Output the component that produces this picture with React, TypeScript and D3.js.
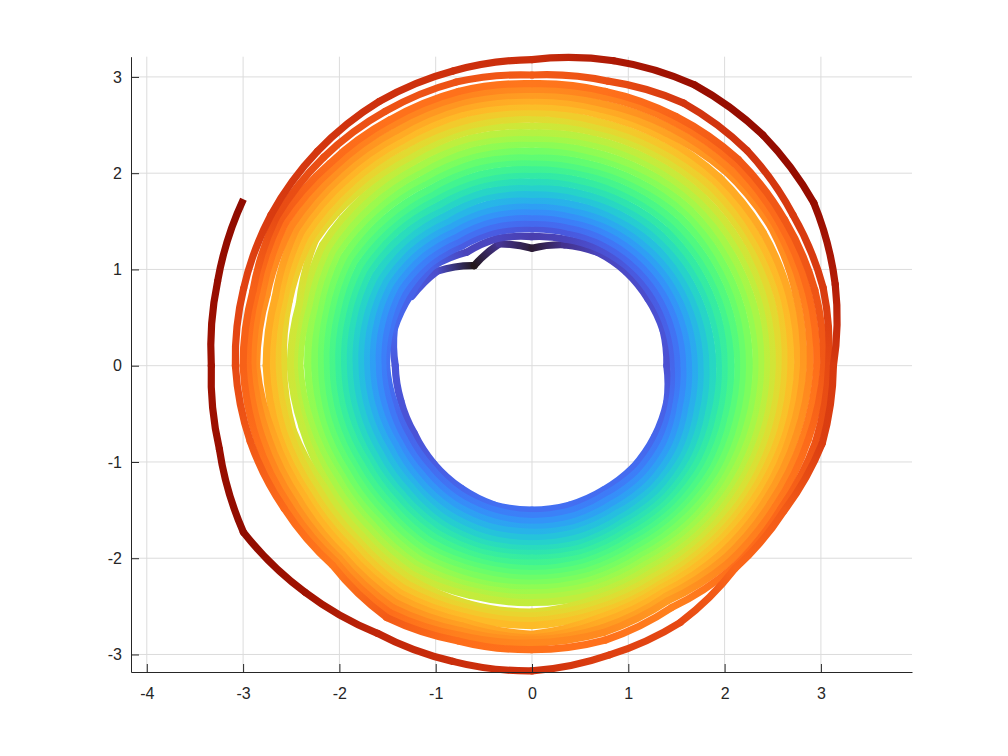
import { useEffect, useRef } from 'react';
import * as d3 from 'd3';

// polar angle of every sample, one turn clockwise, in degrees
const angles = [150, 135, 120, 105, 90, 75, 60, 45, 30, 15, 0, -15, -30, -45, -60, -75, -90, -105, -120, -135, -150, -165, -180, -195];

// radius for each turn of the spiral, inner to outer
const loop01 = [1.44,1.39,1.20,1.31,1.22,1.30,1.36,1.38,1.39,1.41,1.40,1.45,1.47,1.49,1.49,1.50,1.50,1.50,1.47,1.44,1.41,1.41,1.42,1.48];
const loop02 = [1.46,1.46,1.36,1.37,1.34,1.36,1.40,1.43,1.44,1.46,1.47,1.50,1.53,1.55,1.54,1.56,1.56,1.55,1.53,1.49,1.47,1.48,1.51,1.52];
const loop03 = [1.52,1.50,1.44,1.44,1.42,1.43,1.46,1.48,1.50,1.51,1.52,1.55,1.59,1.61,1.60,1.62,1.62,1.61,1.59,1.55,1.53,1.53,1.55,1.56];
const loop04 = [1.58,1.55,1.50,1.50,1.48,1.49,1.52,1.54,1.56,1.57,1.58,1.60,1.65,1.67,1.66,1.68,1.68,1.67,1.65,1.61,1.59,1.59,1.60,1.62];
const loop05 = [1.64,1.61,1.56,1.56,1.54,1.55,1.58,1.60,1.62,1.63,1.64,1.66,1.71,1.73,1.72,1.74,1.73,1.73,1.71,1.67,1.64,1.65,1.66,1.68];
const loop06 = [1.70,1.67,1.62,1.62,1.60,1.61,1.64,1.66,1.68,1.69,1.70,1.72,1.77,1.79,1.77,1.79,1.79,1.79,1.77,1.73,1.70,1.71,1.72,1.74];
const loop07 = [1.76,1.73,1.68,1.68,1.66,1.67,1.70,1.72,1.74,1.75,1.76,1.78,1.83,1.84,1.83,1.85,1.85,1.85,1.83,1.78,1.76,1.77,1.78,1.80];
const loop08 = [1.82,1.79,1.74,1.74,1.72,1.73,1.76,1.78,1.80,1.81,1.82,1.84,1.88,1.90,1.88,1.91,1.90,1.91,1.89,1.84,1.82,1.83,1.84,1.86];
const loop09 = [1.88,1.85,1.80,1.81,1.78,1.80,1.82,1.85,1.86,1.87,1.88,1.90,1.94,1.95,1.93,1.96,1.95,1.96,1.94,1.90,1.88,1.89,1.90,1.92];
const loop10 = [1.95,1.91,1.87,1.87,1.85,1.86,1.89,1.91,1.93,1.94,1.95,1.96,1.99,2.00,1.98,2.01,2.00,2.01,2.00,1.95,1.94,1.95,1.96,1.98];
const loop11 = [2.01,1.98,1.93,1.94,1.91,1.93,1.95,1.98,1.99,2.00,2.01,2.02,2.05,2.05,2.03,2.06,2.05,2.06,2.05,2.01,1.99,2.01,2.02,2.04];
const loop12 = [2.07,2.04,2.00,2.00,1.98,1.99,2.02,2.05,2.06,2.07,2.07,2.08,2.10,2.10,2.08,2.11,2.11,2.11,2.11,2.06,2.05,2.07,2.08,2.10];
const loop13 = [2.14,2.10,2.06,2.06,2.04,2.06,2.08,2.11,2.12,2.13,2.14,2.14,2.16,2.15,2.13,2.16,2.16,2.16,2.17,2.12,2.11,2.13,2.14,2.16];
const loop14 = [2.20,2.16,2.12,2.13,2.11,2.12,2.15,2.18,2.19,2.20,2.20,2.20,2.21,2.20,2.18,2.21,2.21,2.21,2.22,2.17,2.16,2.19,2.20,2.22];
const loop15 = [2.26,2.23,2.19,2.19,2.17,2.18,2.21,2.25,2.25,2.26,2.26,2.26,2.27,2.25,2.23,2.26,2.26,2.26,2.28,2.23,2.22,2.25,2.26,2.28];
const loop16 = [2.33,2.29,2.25,2.26,2.23,2.25,2.28,2.31,2.32,2.33,2.33,2.32,2.32,2.31,2.28,2.31,2.31,2.32,2.33,2.28,2.28,2.31,2.33,2.34];
const loop17 = [2.39,2.35,2.32,2.32,2.30,2.31,2.34,2.38,2.38,2.39,2.39,2.38,2.37,2.36,2.33,2.36,2.36,2.37,2.39,2.34,2.33,2.37,2.41,2.40];
const loop18 = [2.45,2.42,2.38,2.39,2.36,2.38,2.41,2.44,2.45,2.46,2.45,2.44,2.43,2.41,2.38,2.41,2.41,2.42,2.44,2.39,2.39,2.43,2.47,2.46];
const loop19 = [2.51,2.48,2.45,2.45,2.42,2.44,2.47,2.50,2.51,2.52,2.51,2.50,2.48,2.46,2.43,2.46,2.46,2.47,2.50,2.45,2.45,2.47,2.51,2.50];
const loop20 = [2.60,2.55,2.51,2.52,2.49,2.51,2.54,2.57,2.58,2.58,2.57,2.55,2.53,2.51,2.48,2.51,2.56,2.56,2.55,2.50,2.50,2.57,2.58,2.61];
const loop21 = [2.65,2.61,2.57,2.58,2.56,2.57,2.60,2.63,2.64,2.65,2.63,2.61,2.59,2.56,2.53,2.56,2.60,2.60,2.61,2.56,2.56,2.61,2.64,2.66];
const loop22 = [2.71,2.67,2.64,2.64,2.63,2.63,2.66,2.70,2.70,2.71,2.69,2.67,2.64,2.61,2.58,2.61,2.65,2.65,2.67,2.61,2.62,2.67,2.70,2.71];
const loop23 = [2.77,2.73,2.70,2.71,2.69,2.70,2.73,2.76,2.77,2.77,2.76,2.73,2.69,2.66,2.63,2.66,2.70,2.70,2.73,2.67,2.68,2.73,2.76,2.76];
const loop24 = [2.83,2.79,2.76,2.77,2.75,2.76,2.79,2.85,2.87,2.84,2.82,2.78,2.75,2.71,2.67,2.71,2.79,2.75,2.78,2.72,2.73,2.78,2.86,2.85];
const loop25 = [2.89,2.85,2.82,2.83,2.81,2.82,2.86,2.90,2.92,2.91,2.89,2.84,2.80,2.77,2.72,2.76,2.83,2.80,2.84,2.78,2.79,2.84,2.90,2.90];
const loop26 = [2.96,2.91,2.89,2.89,2.87,2.89,2.93,2.97,2.97,2.97,2.96,2.91,2.86,2.83,2.77,2.82,2.85,2.85,2.90,2.83,2.85,2.90,2.95,2.96];
const loop27 = [3.02,2.97,2.95,2.95,2.93,2.95,2.99,3.03,3.03,3.04,3.03,2.97,2.92,2.89,2.82,2.87,2.88,2.90,2.96,2.88,2.91,2.96,3.00,3.00];
const loop28 = [3.07,3.06,3.05,3.05,3.02,3.06,3.15,3.16,3.13,3.13,3.08,3.05,2.98,2.96,2.90,2.95,2.95,2.96,3.02,2.93,2.97,3.03,3.08,3.10];
const loop29 = [3.13,3.15,3.17,3.17,3.18,3.28,3.37,3.39,3.38,3.26,3.13,3.12,3.02,2.98,3.08,3.11,3.17,3.18,3.21,3.33,3.46,3.36,3.33,3.38];
const lastRadius = 3.46;
const lastAngle = 150;

const loops = [loop01, loop02, loop03, loop04, loop05, loop06, loop07, loop08, loop09, loop10,
  loop11, loop12, loop13, loop14, loop15, loop16, loop17, loop18, loop19, loop20,
  loop21, loop22, loop23, loop24, loop25, loop26, loop27, loop28, loop29];

const xTicks = [-4, -3, -2, -1, 0, 1, 2, 3];
const yTicks = [-3, -2, -1, 0, 1, 2, 3];
const xDomain = [-4.164, 3.946];
const yDomain = [-3.182, 3.21];
const radiusDomain = [1.2, 3.46];

type Sample = { r: number; a: number };

export default function App() {
  const svgRef = useRef<SVGSVGElement>(null);

  useEffect(() => {
    if (!svgRef.current) return;
    const svg = d3.select(svgRef.current);
    svg.selectAll('*').remove();

    const left = 131, right = 912, top = 56.7, bottom = 672;
    const x = d3.scaleLinear().domain(xDomain).range([left, right]);
    const y = d3.scaleLinear().domain(yDomain).range([bottom, top]);
    const color = d3.scaleSequential(d3.interpolateTurbo).domain(radiusDomain);

    // Grid lines
    svg.append('g').selectAll('line').data(xTicks).enter().append('line')
      .attr('x1', (d) => x(d)).attr('x2', (d) => x(d))
      .attr('y1', top).attr('y2', bottom)
      .attr('stroke', '#dcdcdc').attr('stroke-width', 1);
    svg.append('g').selectAll('line').data(yTicks).enter().append('line')
      .attr('y1', (d) => y(d)).attr('y2', (d) => y(d))
      .attr('x1', left).attr('x2', right)
      .attr('stroke', '#dcdcdc').attr('stroke-width', 1);

    // Flatten the turns into one trajectory
    const points: Sample[] = [];
    loops.forEach((loop, i) => {
      loop.forEach((r, j) => points.push({ r, a: angles[j] - 360 * i }));
    });
    points.push({ r: lastRadius, a: lastAngle - 360 * loops.length });

    const rad = (a: number) => (a * Math.PI) / 180;
    const px = (p: Sample) => x(p.r * Math.cos(rad(p.a)));
    const py = (p: Sample) => y(p.r * Math.sin(rad(p.a)));

    // One bezier per segment, following the turn around the origin
    const segmentPath = (a: Sample, b: Sample) => {
      const dt = rad(b.a - a.a);
      const dr = b.r - a.r;
      const handle = (p: Sample, sign: number) => ({
        hx: p.r * Math.cos(rad(p.a)) + (sign * (dr * Math.cos(rad(p.a)) - p.r * dt * Math.sin(rad(p.a)))) / 3,
        hy: p.r * Math.sin(rad(p.a)) + (sign * (dr * Math.sin(rad(p.a)) + p.r * dt * Math.cos(rad(p.a)))) / 3,
      });
      const c1 = handle(a, 1);
      const c2 = handle(b, -1);
      const path = d3.path();
      path.moveTo(px(a), py(a));
      path.bezierCurveTo(x(c1.hx), y(c1.hy), x(c2.hx), y(c2.hy), px(b), py(b));
      return path.toString();
    };

    const defs = svg.append('defs');
    const segments = d3.pairs(points);

    segments.forEach(([a, b], i) => {
      const grad = defs.append('linearGradient')
        .attr('id', `seg${i}`)
        .attr('gradientUnits', 'userSpaceOnUse')
        .attr('x1', px(a)).attr('y1', py(a))
        .attr('x2', px(b)).attr('y2', py(b));
      grad.append('stop').attr('offset', 0).attr('stop-color', color(a.r));
      grad.append('stop').attr('offset', 1).attr('stop-color', color(b.r));
    });

    svg.append('g').selectAll('path').data(segments).enter().append('path')
      .attr('d', (d) => segmentPath(d[0], d[1]))
      .attr('fill', 'none')
      .attr('stroke', (_, i) => `url(#seg${i})`)
      .attr('stroke-width', 7.2)
      .attr('stroke-linecap', (_, i) => (i === segments.length - 1 ? 'butt' : 'round'));

    // Axes, ticks point inward
    const xAxis = svg.append('g')
      .attr('transform', `translate(0,${bottom})`)
      .call(d3.axisBottom(x).tickValues(xTicks).tickSizeInner(-8).tickSizeOuter(0).tickPadding(16).tickFormat((d) => `${d}`));
    const yAxis = svg.append('g')
      .attr('transform', `translate(${left},0)`)
      .call(d3.axisLeft(y).tickValues(yTicks).tickSizeInner(-8).tickSizeOuter(0).tickPadding(9).tickFormat((d) => `${d}`));

    [xAxis, yAxis].forEach((axis) => {
      axis.selectAll('path,line').attr('stroke', '#262626').attr('stroke-width', 1);
      axis.selectAll('text')
        .attr('fill', '#262626')
        .style('font-family', '"Liberation Sans", Arial, sans-serif')
        .style('font-size', '16px');
    });
  }, []);

  return (
    <svg
      ref={svgRef}
      width={1008}
      height={756}
      style={{ position: 'absolute', left: 0, top: 0, background: '#ffffff' }}
    />
  );
}
